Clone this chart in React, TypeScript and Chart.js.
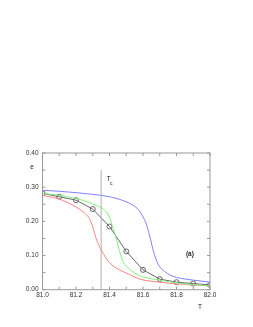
import { useEffect, useRef } from "react";
import { Chart, registerables } from "chart.js";
Chart.register(...registerables);

// black curve with circle markers
const markerT = [81.0, 81.1, 81.2, 81.3, 81.4, 81.5, 81.6, 81.7, 81.8, 81.9, 82.0];
const markerE = [0.282, 0.272, 0.262, 0.236, 0.185, 0.112, 0.058, 0.031, 0.022, 0.018, 0.014];

// blue curve
const blueT = [81.0, 81.1, 81.2, 81.3, 81.35, 81.4, 81.45, 81.5, 81.55, 81.58, 81.6, 81.62, 81.64, 81.66, 81.68, 81.7, 81.73, 81.76, 81.8, 81.9, 82.0];
const blueE = [0.291, 0.288, 0.284, 0.279, 0.276, 0.272, 0.266, 0.257, 0.244, 0.230, 0.213, 0.192, 0.157, 0.117, 0.086, 0.067, 0.053, 0.043, 0.036, 0.028, 0.022];

// green curve
const greenT = [81.0, 81.1, 81.2, 81.25, 81.3, 81.35, 81.38, 81.4, 81.42, 81.44, 81.46, 81.48, 81.52, 81.58, 81.65, 81.7, 81.8, 81.9, 82.0];
const greenE = [0.282, 0.276, 0.267, 0.260, 0.251, 0.240, 0.228, 0.212, 0.182, 0.150, 0.112, 0.083, 0.060, 0.041, 0.032, 0.028, 0.020, 0.015, 0.011];

// red curve
const redT = [81.0, 81.1, 81.2, 81.25, 81.28, 81.3, 81.32, 81.35, 81.4, 81.46, 81.5, 81.58, 81.7, 81.8, 81.9, 82.0];
const redE = [0.276, 0.265, 0.242, 0.225, 0.208, 0.184, 0.150, 0.117, 0.079, 0.058, 0.049, 0.031, 0.022, 0.017, 0.014, 0.011];

// critical temperature marker
const tcT = 81.35;
const tcLine = [0, 0.35];

// axes
const xMin = 81.0;
const xMax = 82.0;
const yMin = 0;
const yMax = 0.4;
const xMinorTicks = [81.0, 81.1, 81.2, 81.3, 81.4, 81.5, 81.6, 81.7, 81.8, 81.9, 82.0];
const yMinorTicks = [0, 0.05, 0.1, 0.15, 0.2, 0.25, 0.3, 0.35, 0.4];

const zip = (xs: number[], ys: number[]) => xs.map((x, i) => ({ x, y: ys[i] }));

const FONT = "'Liberation Sans', Arial, sans-serif";

const decorPlugin = {
  id: "decor",
  afterDraw(chart: any) {
    const { ctx, chartArea: a, scales } = chart;
    const xs = scales.x;
    const ys = scales.y;
    ctx.save();
    ctx.strokeStyle = "#9a9a9a";
    ctx.lineWidth = 1;
    ctx.strokeRect(a.left, a.top, a.right - a.left, a.bottom - a.top);
    ctx.beginPath();
    const L = 3;
    for (const t of xMinorTicks) {
      const px = xs.getPixelForValue(t);
      ctx.moveTo(px, a.bottom);
      ctx.lineTo(px, a.bottom - L);
      ctx.moveTo(px, a.top);
      ctx.lineTo(px, a.top + L);
    }
    for (const v of yMinorTicks) {
      const py = ys.getPixelForValue(v);
      ctx.moveTo(a.left, py);
      ctx.lineTo(a.left + L, py);
      ctx.moveTo(a.right, py);
      ctx.lineTo(a.right - L, py);
    }
    ctx.stroke();

    ctx.fillStyle = "#222";
    ctx.textBaseline = "middle";
    ctx.textAlign = "center";
    ctx.font = `6.5px ${FONT}`;
    ctx.fillText("e", 32, 167);
    ctx.fillText("T", 200, 307.5);
    ctx.font = `bold 6.5px ${FONT}`;
    ctx.fillText("(a)", xs.getPixelForValue(81.88), ys.getPixelForValue(0.105));
    ctx.font = `6.5px ${FONT}`;
    const tx = xs.getPixelForValue(tcT) + 7.5;
    const ty = ys.getPixelForValue(0.322);
    ctx.fillText("T", tx, ty);
    ctx.font = `5px ${FONT}`;
    ctx.fillText("c", tx + 2.5, ty + 4);
    ctx.restore();
  },
};

export default function App() {
  const ref = useRef<HTMLCanvasElement | null>(null);
  useEffect(() => {
    if (!ref.current) return;
    const chart = new Chart(ref.current, {
      type: "line",
      data: {
        datasets: [
          {
            data: tcLine.map((y) => ({ x: tcT, y })),
            borderColor: "#b0b0b0",
            borderWidth: 1,
            pointRadius: 0,
            tension: 0,
          },
          {
            data: zip(blueT, blueE),
            borderColor: "#8080ff",
            borderWidth: 1,
            pointRadius: 0,
            cubicInterpolationMode: "monotone",
          },
          {
            data: zip(greenT, greenE),
            borderColor: "#80f080",
            borderWidth: 1,
            pointRadius: 0,
            cubicInterpolationMode: "monotone",
          },
          {
            data: zip(redT, redE),
            borderColor: "#ff8080",
            borderWidth: 1,
            pointRadius: 0,
            cubicInterpolationMode: "monotone",
          },
          {
            data: zip(markerT, markerE),
            borderColor: "#666666",
            borderWidth: 1,
            pointRadius: 2.5,
            pointBorderColor: "#666666",
            pointBackgroundColor: "rgba(255,255,255,0)",
            pointBorderWidth: 1,
            tension: 0,
          },
        ],
      },
      options: {
        animation: false,
        responsive: false,
        maintainAspectRatio: false,
        layout: { padding: { top: 153, right: 43, bottom: 17.3, left: 0 } },
        plugins: { legend: { display: false }, tooltip: { enabled: false } },
        scales: {
          x: {
            type: "linear",
            min: xMin,
            max: xMax,
            grid: { display: false, drawTicks: false, tickLength: 0 },
            border: { display: false },
            afterFit: (s: any) => {
              s.height = 20;
            },
            ticks: {
              stepSize: 0.2,
              padding: 1.5,
              maxRotation: 0,
              color: "#333",
              font: { size: 6.5, family: FONT },
              callback: (v: any) => Number(v).toFixed(1),
            },
          },
          y: {
            type: "linear",
            min: yMin,
            max: yMax,
            grid: { display: false, drawTicks: false, tickLength: 0 },
            border: { display: false },
            afterFit: (s: any) => {
              s.width = 42.5;
            },
            ticks: {
              stepSize: 0.1,
              padding: 4,
              color: "#333",
              font: { size: 6.5, family: FONT },
              callback: (v: any) => Number(v).toFixed(2),
            },
          },
        },
      },
      plugins: [decorPlugin],
    } as any);
    return () => chart.destroy();
  }, []);
  return (
    <div style={{ position: "fixed", left: 0, top: 0, width: 253, height: 327, background: "#fff" }}>
      <canvas ref={ref} width={253} height={327} style={{ width: 253, height: 327 }} />
    </div>
  );
}
